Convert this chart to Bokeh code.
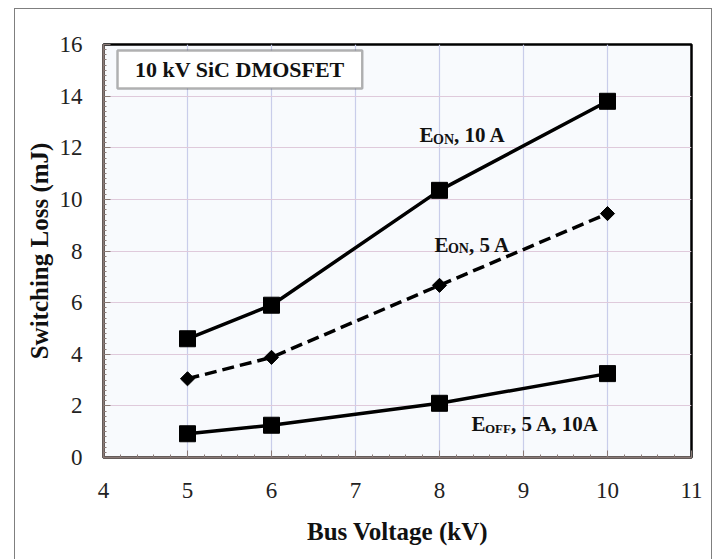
import numpy as np
from bokeh.plotting import figure
from bokeh.models import FixedTicker, Label, BoxAnnotation, Range1d
from bokeh.embed import file_html
from bokeh.resources import INLINE

# ---- data ----
voltage_kv = [5, 6, 8, 10]
eon_10a = [4.6, 5.9, 10.35, 13.8]
eon_5a = [3.05, 3.88, 6.67, 9.45]
eoff_5a_10a = [0.92, 1.25, 2.1, 3.25]

x_tick_values = [4, 5, 6, 7, 8, 9, 10, 11]
y_tick_values = [0, 2, 4, 6, 8, 10, 12, 14, 16]

title_text = "10 kV SiC DMOSFET"
x_label = "Bus Voltage (kV)"
y_label = "Switching Loss (mJ)"

SERIF = "Liberation Serif"
AXIS_COL = "#8a7a76"

p = figure(width=698, height=551,
           x_range=Range1d(4, 11), y_range=Range1d(0, 16),
           output_backend="svg", toolbar_location=None,
           min_border_left=88, min_border_right=22,
           min_border_top=35, min_border_bottom=103,
           background_fill_color="#f8fafd", border_fill_color="white")
p.margin = (8, 0, 0, 14)
p.styles = {"border": "1px solid #7f7f7f", "border-bottom": "none"}

p.outline_line_color = "black"
p.outline_line_width = 2.5

# axes
p.xaxis.ticker = FixedTicker(ticks=x_tick_values,
                             minor_ticks=list(np.round(np.arange(4, 11.001, 0.2), 2)))
p.yaxis.ticker = FixedTicker(ticks=y_tick_values,
                             minor_ticks=list(np.round(np.arange(0, 16.001, 0.2), 2)))
for axes in (p.xaxis, p.yaxis):
    axes.axis_line_color = AXIS_COL
    axes.axis_line_width = 2
    axes.major_tick_line_color = AXIS_COL
    axes.minor_tick_line_color = AXIS_COL
    axes.major_tick_in = 7
    axes.major_tick_out = 0
    axes.minor_tick_in = 3
    axes.minor_tick_out = 0
    axes.major_label_text_font = SERIF
    axes.major_label_text_font_style = "normal"
    axes.major_label_text_font_size = "23px"
    axes.major_label_text_color = "#222222"
    axes.axis_label_text_font = SERIF
    axes.axis_label_text_font_style = "bold"
    axes.axis_label_text_color = "#111111"

p.xaxis.axis_label = x_label
p.yaxis.axis_label = y_label
p.xaxis.axis_label_text_font_size = "25px"
p.yaxis.axis_label_text_font_size = "25px"
p.xaxis.major_label_standoff = 25
p.xaxis.axis_label_standoff = 17
p.yaxis.major_label_standoff = 21
p.yaxis.axis_label_standoff = 4

# grid
p.xgrid.grid_line_color = "#c9cdea"
p.xgrid.grid_line_width = 1.2
p.ygrid.grid_line_color = "#dfcadb"
p.ygrid.grid_line_width = 1.2

# series
p.line(voltage_kv, eon_10a, line_color="black", line_width=3.5)
p.scatter(voltage_kv, eon_10a, marker="square", size=16, color="black")

p.line(voltage_kv, eon_5a, line_color="black", line_width=3.5, line_dash="12 6")
p.scatter(voltage_kv, eon_5a, marker="square", size=10, angle=np.pi / 4, color="black")

p.line(voltage_kv, eoff_5a_10a, line_color="black", line_width=3.5)
p.scatter(voltage_kv, eoff_5a_10a, marker="square", size=16, color="black")

# title box
p.add_layout(BoxAnnotation(left=4.167, right=7.08, bottom=14.3, top=15.77,
                           fill_color="white", fill_alpha=1.0,
                           line_color="black", line_width=2.5))
p.add_layout(Label(x=(4.167 + 7.08) / 2, y=(14.3 + 15.77) / 2, text=title_text,
                   text_font=SERIF, text_font_style="bold", text_font_size="22px",
                   text_align="center", text_baseline="middle", text_color="#111111"))


def sub_label(x, y, main, sub, rest, size, sub_size, w_main, w_sub):
    common = dict(x=x, y=y, text_font=SERIF, text_font_style="bold",
                  text_baseline="alphabetic", text_color="#111111")
    p.add_layout(Label(text=main, text_font_size=f"{size}px", **common))
    p.add_layout(Label(text=sub, text_font_size=f"{sub_size}px",
                       x_offset=w_main, y_offset=-4, **common))
    p.add_layout(Label(text=rest, text_font_size=f"{size}px",
                       x_offset=w_main + w_sub, **common))


sub_label(7.762, 12.48, "E", "ON", ", 10 A", 21, 14, 13.5, 21)
sub_label(7.94, 8.25, "E", "ON", ", 5 A", 21, 14, 13.5, 21)
sub_label(8.381, 1.28, "E", "OFF", ", 5 A, 10A", 21, 13, 13.5, 26)

open("out.html", "w").write(file_html(p, INLINE))
